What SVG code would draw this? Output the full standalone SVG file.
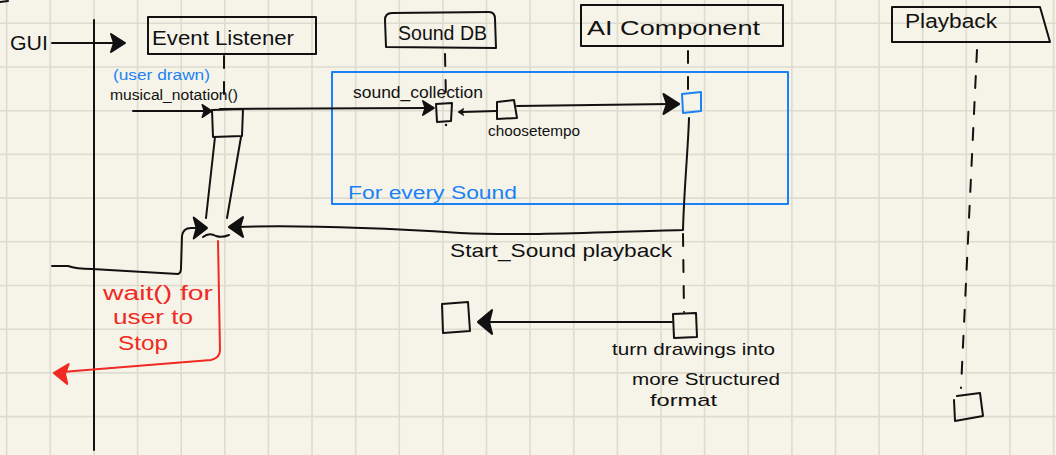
<svg xmlns="http://www.w3.org/2000/svg" xmlns:xlink="http://www.w3.org/1999/xlink" width="1056" height="455" viewBox="0 0 1056 455">
  <defs>
    <style>
      .ink { fill: none; stroke: #111; stroke-width: 2; stroke-linecap: round; stroke-linejoin: round; }
      .dash { fill: none; stroke: #111; stroke-width: 2; stroke-linecap: round; stroke-dasharray: 12 14; }
      .blue { fill: none; stroke: #1a82f5; stroke-width: 2; stroke-linejoin: round; }
      .red { fill: none; stroke: #f02a22; stroke-width: 2; stroke-linecap: round; stroke-linejoin: round; }
      .grid { fill: none; stroke: #dedbcf; stroke-width: 1.6; }
      .head { fill: #111; stroke: #111; stroke-width: 2; stroke-linejoin: round; }
      .head-red { fill: #f02a22; stroke: #f02a22; stroke-width: 2; stroke-linejoin: round; }
      text { font-family: "Liberation Sans", "DejaVu Sans", sans-serif; fill: #111; }
      .t-blue { fill: #1a82f5; }
      .t-red { fill: #f02a22; }
    </style>
    <!-- filled arrowhead, tip at the origin, pointing right -->
    <path id="tip" d="M-14,-9 L0,0 L-14,9 L-11,0 Z"/>
  </defs>

  <!-- paper -->
  <rect width="1056" height="455" fill="#f6f4e9"/>
  <path class="grid" d="M6.7,0V455 M50.3,0V455 M93.9,0V455 M137.6,0V455 M181.2,0V455 M224.8,0V455 M268.4,0V455 M312,0V455 M355.7,0V455 M399.3,0V455 M442.9,0V455 M486.5,0V455 M530.1,0V455 M573.8,0V455 M617.4,0V455 M661,0V455 M704.6,0V455 M748.2,0V455 M791.9,0V455 M835.5,0V455 M879.1,0V455 M922.7,0V455 M966.3,0V455 M1009.9,0V455 M1053.6,0V455
    M0,23.3H1056 M0,67H1056 M0,110.7H1056 M0,154.4H1056 M0,198.1H1056 M0,241.8H1056 M0,285.5H1056 M0,329.2H1056 M0,372.9H1056 M0,416.6H1056"/>
  <path class="ink" d="M0,2 L8,1"/>

  <!-- GUI actor and its lifeline -->
  <g id="gui">
    <text x="10" y="50" font-size="21" textLength="38" lengthAdjust="spacingAndGlyphs">GUI</text>
    <path class="ink" d="M94,20 L94,450"/>
  </g>

  <!-- Event Listener -->
  <g id="event-listener">
    <rect class="ink" x="148" y="17" width="168" height="37"/>
    <text x="152" y="45" font-size="21" textLength="142" lengthAdjust="spacingAndGlyphs">Event Listener</text>
    <path class="dash" d="M224,56 L224,108"/>
    <path class="ink" d="M212,110 L243,109 L242,136 L213,137 Z"/>
  </g>

  <!-- Sound DB -->
  <g id="sound-db">
    <path class="ink" d="M386,47 L385,20 Q385,13 392,13 L489,12 Q495,12 495,19 L496,48 Z"/>
    <text x="398" y="40" font-size="20" textLength="89" lengthAdjust="spacingAndGlyphs">Sound DB</text>
    <path class="dash" d="M445,54 L446,100" stroke-dasharray="10 14"/>
    <path class="ink" d="M436,104 L452,103 L451,121 L437,122 Z"/>
    <circle cx="446" cy="125" r="1.2" fill="#111"/>
  </g>

  <!-- AI Component -->
  <g id="ai-component">
    <rect class="ink" x="581" y="5" width="202" height="41"/>
    <text x="587" y="35" font-size="20" textLength="173" lengthAdjust="spacingAndGlyphs">AI  Component</text>
    <path class="dash" d="M688,51 L688,90" stroke-dasharray="10 14"/>
    <path class="blue" d="M682,94 L701,92 L701,111 L683,113 Z"/>
    <path class="dash" d="M683,234 L684,312" stroke-dasharray="12 13"/>
    <path class="ink" d="M673,314 L696,313 L697,337 L674,338 Z"/>
  </g>

  <!-- Playback -->
  <g id="playback">
    <path class="ink" d="M892,7 L1040,7 L1050,42 L892,42 Z"/>
    <text x="905" y="28" font-size="20" textLength="92" lengthAdjust="spacingAndGlyphs">Playback</text>
    <path class="dash" d="M977,50 L961,388" stroke-dasharray="16 30"/>
    <path class="ink" d="M957,396 L980,393 L983,416 L955,421 L954,400"/>
  </g>

  <!-- choosetempo step -->
  <g id="choosetempo">
    <path class="ink" d="M497,102 L514,100 L517,118 L497,119 Z"/>
    <text x="488" y="136" font-size="14" textLength="92" lengthAdjust="spacingAndGlyphs">choosetempo</text>
  </g>

  <!-- structured format step -->
  <g id="structured-format">
    <path class="ink" d="M442,304 L468,302 L470,331 L443,333 Z"/>
    <text x="612" y="355" font-size="17" textLength="163" lengthAdjust="spacingAndGlyphs">turn drawings into</text>
    <text x="632" y="385" font-size="17" textLength="148" lengthAdjust="spacingAndGlyphs">more Structured</text>
    <text x="650" y="406" font-size="17" textLength="67" lengthAdjust="spacingAndGlyphs">format</text>
  </g>

  <!-- loop frame -->
  <g id="loop-frame">
    <rect class="blue" x="332" y="72" width="456" height="132"/>
    <text class="t-blue" x="348" y="199" font-size="18" textLength="169" lengthAdjust="spacingAndGlyphs">For every Sound</text>
  </g>

  <!-- messages -->
  <g id="connectors">
    <path class="ink" d="M52,43 L118,43"/>
    <use xlink:href="#tip" class="head" transform="translate(125,43)"/>

    <text class="t-blue" x="113" y="80" font-size="14" textLength="97" lengthAdjust="spacingAndGlyphs">(user drawn)</text>
    <text x="110" y="100" font-size="14" textLength="128" lengthAdjust="spacingAndGlyphs">musical_notation()</text>
    <path class="ink" d="M133,111 L206,111"/>
    <use xlink:href="#tip" class="head" transform="translate(212,111) scale(0.7)"/>

    <path class="ink" d="M220,109 L428,108"/>
    <use xlink:href="#tip" class="head" transform="translate(434,108) scale(0.8)"/>
    <text x="353" y="98" font-size="16" textLength="130" lengthAdjust="spacingAndGlyphs">sound_collection</text>
    <path class="ink" d="M496,111 L462,112"/>
    <use xlink:href="#tip" class="head" transform="translate(458,112) rotate(180) scale(0.4)"/>
    <path class="ink" d="M517,106 L670,104"/>
    <use xlink:href="#tip" class="head" transform="translate(679,104) scale(1.1)"/>

    <!-- activation stretched down to the wait point -->
    <path class="ink" d="M215,137 L206,218 M241,137 L227,218"/>
    <use xlink:href="#tip" class="head" transform="translate(207,228) scale(0.95,1.15)"/>
    <path class="ink" d="M203,237 Q209,232 216,236 Q222,238 229,235"/>

    <path class="ink" d="M689,118 C688,150 684,190 683,230 C600,232 530,236 460,233 C380,228 300,225 236,227"/>
    <use xlink:href="#tip" class="head" transform="translate(229,227) rotate(180) scale(1,1.1)"/>
    <text x="450" y="257" font-size="19" textLength="222" lengthAdjust="spacingAndGlyphs">Start_Sound playback</text>

    <path class="ink" d="M52,266 L68,266 Q76,269 92,269 L178,274 Q181,273 181,268 L182,236 Q183,228 191,228 L196,228"/>

    <path class="ink" d="M672,322 L486,322"/>
    <use xlink:href="#tip" class="head" transform="translate(478,322) rotate(180) scale(1,1.3)"/>

    <path class="red" d="M218,241 L220,350 Q220,358 211,360 L62,372"/>
    <use xlink:href="#tip" class="head-red" transform="translate(54,373) rotate(184) scale(1,1.1)"/>
    <text class="t-red" x="103" y="300" font-size="20" textLength="110" lengthAdjust="spacingAndGlyphs">wait() for</text>
    <text class="t-red" x="113" y="324" font-size="20" textLength="80" lengthAdjust="spacingAndGlyphs">user to</text>
    <text class="t-red" x="118" y="350" font-size="21" textLength="50" lengthAdjust="spacingAndGlyphs">Stop</text>
  </g>
</svg>
